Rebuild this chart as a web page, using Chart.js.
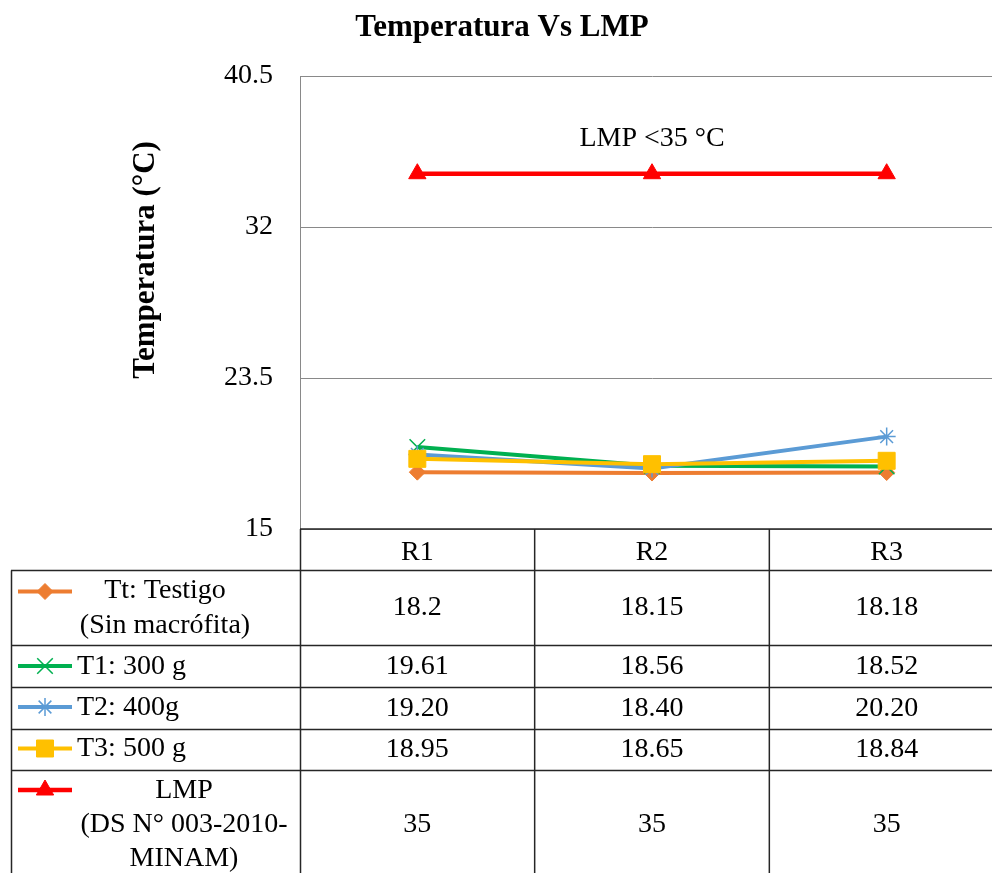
<!DOCTYPE html>
<html><head><meta charset="utf-8">
<style>html,body{margin:0;padding:0;background:#fff;overflow:hidden;width:992px;height:873px}</style>
<script src="https://cdn.jsdelivr.net/npm/chart.js@4.4.1/dist/chart.umd.min.js"></script>
</head><body>
<canvas id="c" width="1004" height="873" style="display:block;width:1004px;height:873px"></canvas>
<script>
// ---- data ----
const categories = ['R1', 'R2', 'R3'];
const testigo = [18.2, 18.15, 18.18];
const t1 = [19.61, 18.56, 18.52];
const t2 = [19.20, 18.40, 20.20];
const t3 = [18.95, 18.65, 18.84];
const lmp = [35, 35, 35];
const yTicks = [15, 23.5, 32, 40.5];
const labelTt = ['Tt: Testigo', '(Sin macrófita)'];
const labelT1 = ['T1: 300 g'];
const labelT2 = ['T2: 400g'];
const labelT3 = ['T3: 500 g'];
const labelLmp = ['LMP', '(DS N° 003-2010-', 'MINAM)'];
const tableDecimals = [null, null, 2, null, null];
const titleText = 'Temperatura Vs LMP';
const yTitleText = 'Temperatura (°C)';
const noteText = 'LMP <35 °C';

const FONT = "'Liberation Serif', 'Times New Roman', serif";
Chart.defaults.font.family = FONT;
Chart.defaults.color = '#000';

const series = [
  {lines: labelTt, data: testigo, color: '#ED7D31', style: 'rectRot', radius: 8, bw: 1, width: 4, order: 5},
  {lines: labelT1, data: t1, color: '#00B050', style: 'crossRot', radius: 11, bw: 1.5, width: 4, order: 4},
  {lines: labelT2, data: t2, color: '#5B9BD5', style: 'star', radius: 9, bw: 1.5, width: 4, order: 3},
  {lines: labelT3, data: t3, color: '#FFC000', style: 'rect', radius: 12, bw: 1, width: 4, order: 1},
  {lines: labelLmp, data: lmp, color: '#FF0000', style: 'triangle', radius: 10, bw: 1, width: 4.5, order: 2}
];

const datasets = series.map(s => ({
  label: s.lines.join(' '),
  data: s.data,
  borderColor: s.color,
  backgroundColor: s.color,
  borderWidth: s.width,
  pointStyle: s.style,
  pointRadius: s.radius,
  pointHoverRadius: s.radius,
  pointBorderWidth: s.bw,
  pointBorderColor: s.color,
  pointBackgroundColor: s.color,
  tension: 0,
  order: s.order
}));

// layout of the data table below the plot (pixel rows)
const rowBounds = [570.5, 645.5, 687.5, 729.5, 770.5, 900];
const keyY = [591.5, 666, 707, 748.5, 790];
const textLinesY = [[591, 626], [666.5], [708], [748.5], [791, 825, 859]];
const textAlignMode = [['center', 165], ['left', 77], ['left', 77], ['left', 77], ['center', 184]];

const tablePlugin = {
  id: 'tablePlugin',
  afterDraw(chart) {
    const {ctx} = chart;
    const x = chart.scales.x, y = chart.scales.y;
    const W = chart.width;
    const top = y.bottom;
    ctx.save();
    // table lines
    ctx.strokeStyle = '#262626';
    ctx.lineWidth = 1.5;
    ctx.beginPath();
    ctx.moveTo(x.left, top); ctx.lineTo(W, top);
    rowBounds.slice(0, 5).forEach(yy => { ctx.moveTo(11, yy); ctx.lineTo(W, yy); });
    ctx.moveTo(x.left + 0.5, top); ctx.lineTo(x.left + 0.5, 873);
    for (let j = 0; j < categories.length - 1; j++) {
      const bx = (x.getPixelForValue(j) + x.getPixelForValue(j + 1)) / 2;
      ctx.moveTo(bx, top); ctx.lineTo(bx, 873);
    }
    ctx.moveTo(11.5, rowBounds[0]); ctx.lineTo(11.5, 873);
    ctx.stroke();

    // values
    ctx.fillStyle = '#000';
    ctx.font = '28px ' + FONT;
    ctx.textAlign = 'center';
    ctx.textBaseline = 'middle';
    series.forEach((s, i) => {
      const cy = i === 4 ? 825 : (rowBounds[i] + rowBounds[i + 1]) / 2;
      s.data.forEach((v, j) => {
        const txt = tableDecimals[i] != null ? v.toFixed(tableDecimals[i]) : String(v);
        ctx.fillText(txt, x.getPixelForValue(j), cy);
      });
    });

    // legend keys & labels
    series.forEach((s, i) => {
      const ky = keyY[i];
      ctx.strokeStyle = s.color;
      ctx.lineWidth = s.width;
      ctx.beginPath();
      ctx.moveTo(18, ky); ctx.lineTo(72, ky);
      ctx.stroke();
      const meta = chart.getDatasetMeta(i);
      const el = meta.data[0];
      if (el) {
        const ox = el.x, oy = el.y;
        el.x = 45; el.y = ky;
        el.draw(ctx);
        el.x = ox; el.y = oy;
      }
      ctx.fillStyle = '#000';
      ctx.font = '28px ' + FONT;
      ctx.textBaseline = 'middle';
      const [mode, tx] = textAlignMode[i];
      ctx.textAlign = mode;
      s.lines.forEach((ln, k) => ctx.fillText(ln, tx, textLinesY[i][k]));
    });

    // note above LMP line
    ctx.textAlign = 'center';
    ctx.font = '28px ' + FONT;
    ctx.fillText(noteText, x.getPixelForValue(1), y.getPixelForValue(lmp[1]) - 35);

    // y-axis title
    ctx.translate(146, 260);
    ctx.rotate(-Math.PI / 2);
    ctx.font = 'bold 31px ' + FONT;
    ctx.fillText(yTitleText, 0, 0);
    ctx.restore();
  }
};

new Chart(document.getElementById('c'), {
  type: 'line',
  data: {labels: categories, datasets},
  plugins: [tablePlugin],
  options: {
    responsive: false,
    animation: false,
    events: [],
    layout: {autoPadding: false, padding: {left: 0, right: 0, top: 0, bottom: 302}},
    plugins: {
      legend: {display: false},
      tooltip: {enabled: false},
      title: {
        display: true,
        text: titleText,
        color: '#000',
        font: {family: FONT, size: 31, weight: 'bold'},
        padding: {top: 9.4, bottom: 29.4}
      }
    },
    scales: {
      x: {
        type: 'category',
        offset: true,
        grid: {display: false, drawTicks: false},
        border: {display: false},
        ticks: {font: {size: 28}, color: '#000', padding: 7, maxRotation: 0, autoSkip: false},
        afterFit(scale) { scale.height = 42; scale.paddingLeft = 0; scale.paddingRight = 0; }
      },
      y: {
        min: yTicks[0],
        max: yTicks[yTicks.length - 1],
        afterBuildTicks(scale) { scale.ticks = yTicks.map(v => ({value: v})); },
        grid: {color: '#898989', lineWidth: 1, drawTicks: false},
        border: {display: true, color: '#898989', width: 1},
        ticks: {font: {size: 28}, color: '#000', padding: 27, callback: v => String(v)},
        afterFit(scale) { scale.width = 300; }
      }
    }
  }
});
</script>
</body></html>
